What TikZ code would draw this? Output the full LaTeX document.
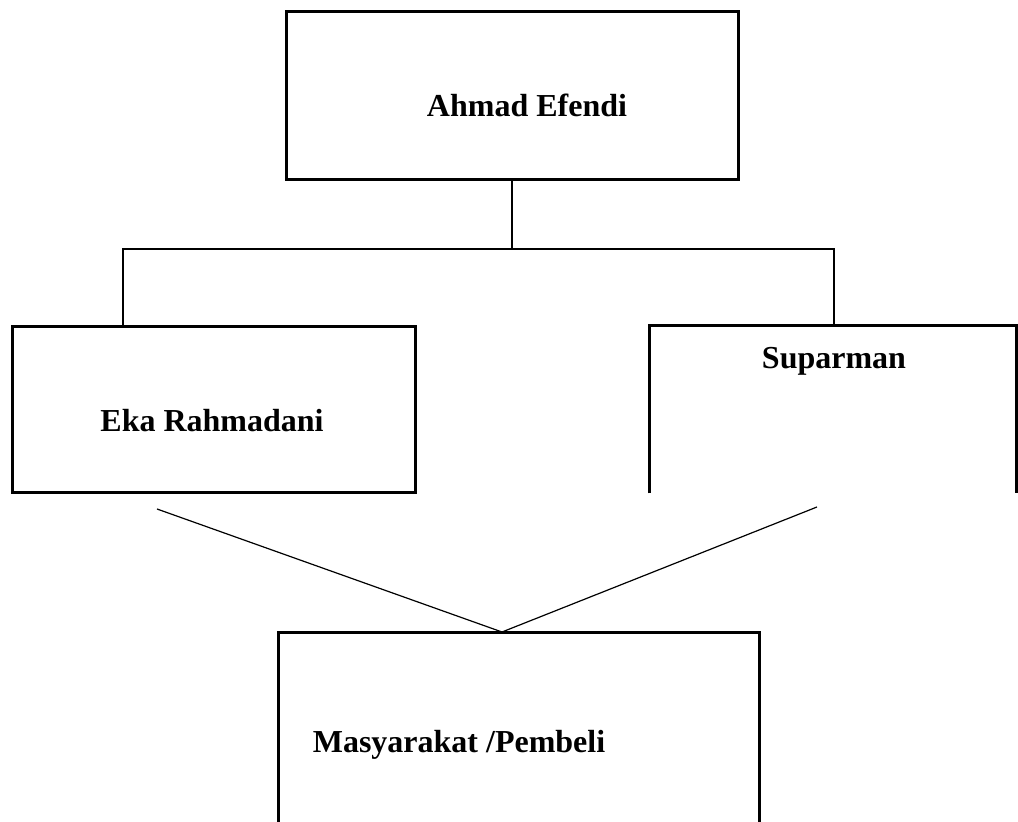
\documentclass[tikz,border=0pt]{standalone}
\usepackage{fontspec}
\setmainfont{Liberation Serif}
\tikzset{
  orgbox/.style={draw, line width=1.5pt, inner sep=0pt},
  openbox/.style={inner sep=0pt},
  boxwall/.style={line width=1.5pt},
  orglabel/.style={font=\fontsize{16pt}{19pt}\selectfont\bfseries, anchor=base, inner sep=0pt},
  conn/.style={line width=1pt},
  thinconn/.style={line width=0.6pt}
}
\begin{document}
\begin{tikzpicture}[x=0.5pt, y=-0.5pt]
          \useasboundingbox (0,0) rectangle (1018,822);
          % boxes
          \node[orgbox, minimum width=226pt, minimum height=84pt] (ahmad) at (512,96) {};
          \node[orgbox, minimum width=201.5pt, minimum height=83pt] (eka) at (213.5,410) {};
          \node[openbox, minimum width=183pt, minimum height=83.5pt] (suparman) at (833,409.5) {};
          \node[openbox, minimum width=240pt, minimum height=103.5pt] (pembeli) at (519,736.5) {};
          \draw[boxwall] (suparman.south west) -- (suparman.north west) -- (suparman.north east) -- (suparman.south east);
          \draw[boxwall] (pembeli.south west) -- (pembeli.north west) -- (pembeli.north east) -- (pembeli.south east);

          % labels
          \node[orglabel] (ahmadtxt) at (527,117) {Ahmad Efendi};
          \node[orglabel] (ekatxt) at (212,432) {Eka Rahmadani};
          \node[orglabel] (suparmantxt) at (834,369) {Suparman};
          \node[orglabel] (pembelitxt) at (459,753) {Masyarakat /Pembeli};

          % connectors
          \coordinate (busL) at (123,249);
          \coordinate (busR) at (834,249);
          \draw[conn] (ahmad.south) -- (ahmad.south |- busL);
          \draw[conn] (eka.north -| busL) -- (busL) -- (busR) -- (suparman.north -| busR);

          \coordinate (tailL) at (157,509);
          \coordinate (tailR) at (817,507);
          \coordinate (meet) at (502,632);
          \draw[thinconn] (tailL) -- (meet) -- (tailR);
    \end{tikzpicture}
\end{document}
